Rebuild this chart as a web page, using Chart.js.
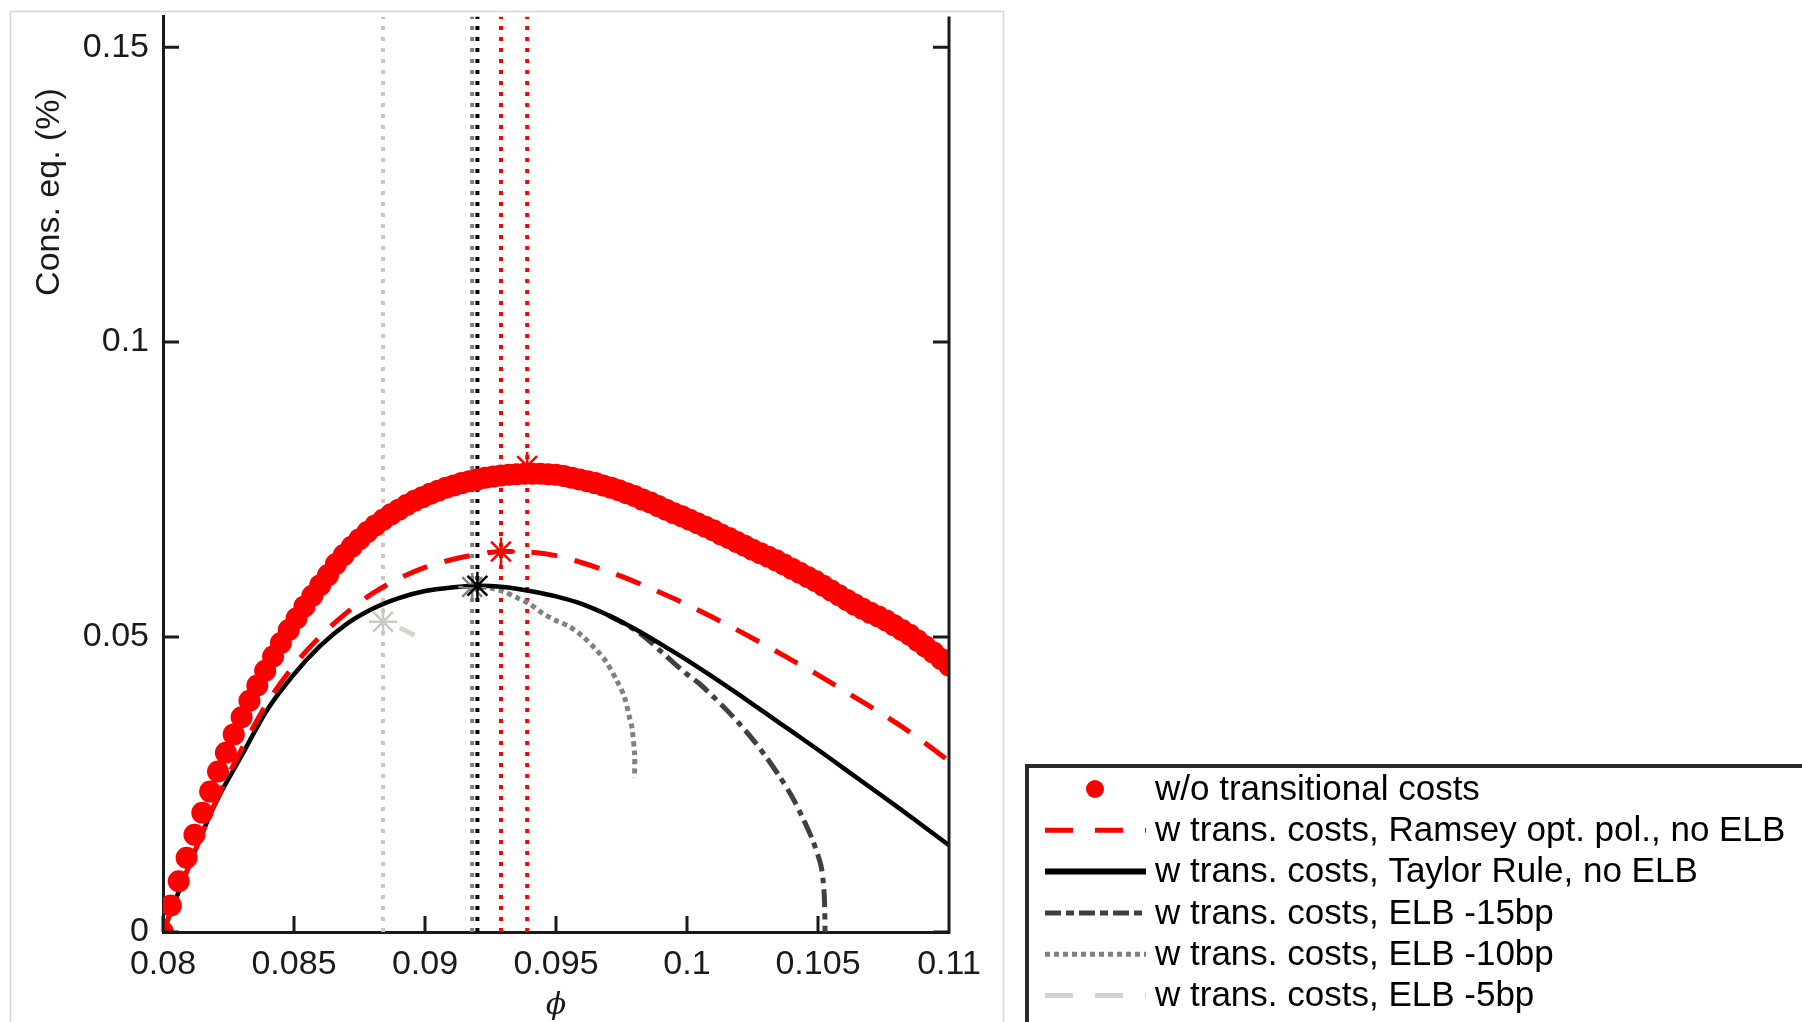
<!DOCTYPE html>
<html>
<head>
<meta charset="utf-8">
<script src="https://cdn.jsdelivr.net/npm/chart.js@4"></script>
<style>
  html, body { margin: 0; padding: 0; background: #fff; }
  canvas { display: block; }
</style>
</head>
<body>
<canvas id="myChart" width="1802" height="1022"></canvas>
<script>
// phi grid for the two smooth curves
const phiLine = [0.080, 0.081, 0.082, 0.083, 0.084, 0.085, 0.086, 0.087, 0.088, 0.089, 0.090,
                 0.091, 0.092, 0.093, 0.094, 0.095, 0.096, 0.097, 0.098, 0.099, 0.100,
                 0.101, 0.102, 0.103, 0.104, 0.105, 0.106, 0.107, 0.108, 0.109, 0.110];
const ramseyPolicy = [0.0000, 0.0113, 0.0220, 0.0310, 0.0390, 0.0452, 0.0501, 0.0541, 0.0574, 0.0599, 0.0618,
                      0.0631, 0.0640, 0.0645, 0.0644, 0.0638, 0.0626, 0.0611, 0.0594, 0.0575, 0.0555,
                      0.0533, 0.0510, 0.0486, 0.0461, 0.0436, 0.0409, 0.0382, 0.0354, 0.0323, 0.0290];
const taylorRule = [0.0000, 0.0113, 0.0218, 0.0299, 0.0378, 0.0437, 0.0485, 0.0522, 0.0548, 0.0566, 0.0578,
                    0.0584, 0.0587, 0.0585, 0.0578, 0.0569, 0.0556, 0.0537, 0.0514, 0.0488, 0.0461,
                    0.0432, 0.0402, 0.0371, 0.0340, 0.0309, 0.0277, 0.0245, 0.0213, 0.0180, 0.0147];

// w/o transitional costs (marker series)
const phiDots = [0.0800, 0.0803, 0.0806, 0.0809, 0.0812, 0.0815, 0.0818, 0.0821, 0.0824, 0.0827,
                 0.0830, 0.0833, 0.0836, 0.0839, 0.0842, 0.0845, 0.0848, 0.0851, 0.0854, 0.0857,
                 0.0860, 0.0863, 0.0866, 0.0869, 0.0872, 0.0875, 0.0878, 0.0881, 0.0884, 0.0887,
                 0.0890, 0.0893, 0.0896, 0.0899, 0.0902, 0.0905, 0.0908, 0.0911, 0.0914, 0.0917,
                 0.0920, 0.0923, 0.0926, 0.0929, 0.0932, 0.0935, 0.0938, 0.0941, 0.0944, 0.0947,
                 0.0950, 0.0953, 0.0956, 0.0959, 0.0962, 0.0965, 0.0968, 0.0971, 0.0974, 0.0977,
                 0.0980, 0.0983, 0.0986, 0.0989, 0.0992, 0.0995, 0.0998, 0.1001, 0.1004, 0.1007,
                 0.1010, 0.1013, 0.1016, 0.1019, 0.1022, 0.1025, 0.1028, 0.1031, 0.1034, 0.1037,
                 0.1040, 0.1043, 0.1046, 0.1049, 0.1052, 0.1055, 0.1058, 0.1061, 0.1064, 0.1067,
                 0.1070, 0.1073, 0.1076, 0.1079, 0.1082, 0.1085, 0.1088, 0.1091, 0.1094, 0.1097, 0.1100];
const noTransCosts = [0.0000, 0.0045, 0.0086, 0.0126, 0.0165, 0.0202, 0.0238, 0.0272, 0.0304, 0.0335,
                      0.0364, 0.0392, 0.0418, 0.0443, 0.0467, 0.0490, 0.0512, 0.0532, 0.0552, 0.0570,
                      0.0588, 0.0605, 0.0624, 0.0639, 0.0653, 0.0666, 0.0678, 0.0689, 0.0699, 0.0708,
                      0.0716, 0.0724, 0.0731, 0.0737, 0.0743, 0.0748, 0.0753, 0.0757, 0.0761, 0.0764,
                      0.0767, 0.0770, 0.0772, 0.0774, 0.0775, 0.0776, 0.0777, 0.0777, 0.0777, 0.0776,
                      0.0775, 0.0773, 0.0770, 0.0767, 0.0764, 0.0761, 0.0757, 0.0753, 0.0749, 0.0744,
                      0.0739, 0.0733, 0.0728, 0.0722, 0.0716, 0.0710, 0.0705, 0.0699, 0.0693, 0.0687,
                      0.0681, 0.0674, 0.0668, 0.0661, 0.0655, 0.0648, 0.0642, 0.0636, 0.0630, 0.0623,
                      0.0616, 0.0609, 0.0602, 0.0595, 0.0587, 0.0579, 0.0571, 0.0563, 0.0555, 0.0548,
                      0.0541, 0.0535, 0.0528, 0.0520, 0.0512, 0.0504, 0.0494, 0.0484, 0.0474, 0.0463, 0.0452];

// ELB variants (only where they leave the Taylor curve)
const elb15Phi  = [0.0970, 0.0978, 0.0985, 0.0990, 0.0995, 0.1000, 0.1005, 0.1010, 0.1015, 0.1020,
                   0.1025, 0.1030, 0.1035, 0.1040, 0.1044, 0.1048, 0.1051, 0.1052, 0.10525, 0.10527];
const elb15Cons = [0.0537, 0.0518, 0.0496, 0.0476, 0.0456, 0.0437, 0.0420, 0.0399, 0.0377, 0.0353,
                   0.0327, 0.0298, 0.0266, 0.0230, 0.0195, 0.0155, 0.0115, 0.0085, 0.0050, 0.0000];
const elb10Phi  = [0.0918, 0.0925, 0.0930, 0.0935, 0.0940, 0.0945, 0.0950, 0.0955, 0.0960, 0.0965,
                   0.0969, 0.0973, 0.0976, 0.0978, 0.0979, 0.0980, 0.0980];
const elb10Cons = [0.0587, 0.0583, 0.0577, 0.0567, 0.0556, 0.0540, 0.0528, 0.0518, 0.0502, 0.0480,
                   0.0459, 0.0428, 0.0400, 0.0365, 0.0346, 0.0300, 0.0262];
const elb5Phi   = [0.0884, 0.0890, 0.0896];
const elb5Cons  = [0.0526, 0.0516, 0.0503];

// optimum of each policy (asterisks and vertical dotted lines)
const optimumPhi  = [0.0884, 0.0918, 0.0920, 0.0929, 0.0939];
const optimumCons = [0.0526, 0.0585, 0.0587, 0.0645, 0.0790];
const optimumColors = ["#c9c9c2", "#808080", "#000000", "#ff0000", "#ff0000"];

const seriesLabels = [
    "w/o transitional costs",
    "w trans. costs, Ramsey opt. pol., no ELB",
    "w trans. costs, Taylor Rule, no ELB",
    "w trans. costs, ELB -15bp",
    "w trans. costs, ELB -10bp",
    "w trans. costs, ELB -5bp"
];

const xTicks = [0.08, 0.085, 0.09, 0.095, 0.1, 0.105, 0.11];
const yTicks = [0, 0.05, 0.1, 0.15];
const xMin = 0.08, xMax = 0.11, yMin = 0, yMax = 0.1552;

const toPoints = (xs, ys) => xs.map((x, i) => ({ x: x, y: ys[i] }));

const FONT = '"Liberation Sans", Arial, Helvetica, sans-serif';
Chart.defaults.font.family = FONT;
Chart.defaults.font.size = 34;
Chart.defaults.color = "#1a1a1a";

const datasets = [
    {
        label: seriesLabels[0],
        data: toPoints(phiDots, noTransCosts),
        showLine: false,
        pointStyle: "circle",
        pointRadius: 11,
        pointBackgroundColor: "#ff0000",
        pointBorderWidth: 0,
        order: 1,
    },
    {
        label: seriesLabels[1],
        data: toPoints(phiLine, ramseyPolicy),
        borderColor: "#ff0000",
        borderWidth: 5,
        borderDash: [26, 18],
        legendDash: [28, 22],
        cubicInterpolationMode: "monotone",
        pointRadius: 0,
        order: 2,
    },
    {
        label: seriesLabels[2],
        data: toPoints(phiLine, taylorRule),
        borderColor: "#000000",
        borderWidth: 4.5,
        legendWidth: 6,
        cubicInterpolationMode: "monotone",
        pointRadius: 0,
        order: 3,
    },
    {
        label: seriesLabels[3],
        data: toPoints(elb15Phi, elb15Cons),
        borderColor: "#404040",
        borderWidth: 5,
        borderDash: [18, 6, 6, 6],
        legendDash: [16, 5, 8, 5],
        tension: 0.3,
        pointRadius: 0,
        order: 4,
    },
    {
        label: seriesLabels[4],
        data: toPoints(elb10Phi, elb10Cons),
        borderColor: "#808080",
        borderWidth: 5,
        borderDash: [5, 4],
        tension: 0.3,
        pointRadius: 0,
        order: 5,
    },
    {
        label: seriesLabels[5],
        data: toPoints(elb5Phi, elb5Cons),
        borderColor: "#d4d4cc",
        borderWidth: 5,
        borderDash: [26, 18],
        borderDashOffset: 26,
        legendDash: [28, 22],
        tension: 0.3,
        pointRadius: 0,
        order: 6,
    },
    {
        label: "",
        data: toPoints(optimumPhi, optimumCons),
        showLine: false,
        pointStyle: "star",
        pointRadius: 14,
        pointBorderWidth: 2.5,
        pointBorderColor: optimumColors,
        order: 0,
    },
];

// vertical dotted lines at each optimum
optimumPhi.forEach((phi, i) => {
    datasets.push({
        label: "",
        data: [{ x: phi, y: yMin }, { x: phi, y: yMax }],
        borderColor: optimumColors[i],
        borderWidth: 4,
        borderDash: [4, 7],
        pointRadius: 0,
        order: 10,
    });
});

const figureDecor = {
    id: "figureDecor",
    beforeDraw(chart) {
        const ctx = chart.ctx;
        ctx.save();
        ctx.fillStyle = "#ffffff";
        ctx.fillRect(0, 0, chart.width, chart.height);
        ctx.strokeStyle = "#d6d6d6";
        ctx.lineWidth = 1.5;
        ctx.strokeRect(10.5, 11.5, 993, 1030);
        ctx.restore();
    },
    afterDraw(chart) {
        const ctx = chart.ctx;
        const area = chart.chartArea;
        const xs = chart.scales.x, ys = chart.scales.y;
        ctx.save();

        // right axis line and inward ticks
        ctx.strokeStyle = "#1a1a1a";
        ctx.lineWidth = 3;
        ctx.beginPath();
        ctx.moveTo(area.right, area.top);
        ctx.lineTo(area.right, area.bottom + 1.5);
        yTicks.forEach(v => {
            const py = ys.getPixelForValue(v);
            ctx.moveTo(area.left, py);
            ctx.lineTo(area.left + 16, py);
            ctx.moveTo(area.right, py);
            ctx.lineTo(area.right - 16, py);
        });
        xTicks.forEach(v => {
            const px = xs.getPixelForValue(v);
            ctx.moveTo(px, area.bottom);
            ctx.lineTo(px, area.bottom - 16);
        });
        ctx.stroke();

        // axis titles
        ctx.fillStyle = "#1a1a1a";
        ctx.textAlign = "center";
        ctx.textBaseline = "middle";
        ctx.save();
        ctx.translate(50, 192);
        ctx.rotate(-Math.PI / 2);
        ctx.font = "34px " + FONT;
        ctx.fillText("Cons. eq. (%)", 0, 0);
        ctx.restore();
        ctx.font = "italic 30px \"DejaVu Serif\", \"Liberation Serif\", serif";
        ctx.fillText("\u03D5", xs.getPixelForValue(0.095), 1006);

        // legend box
        const lx = 1027, ly = 766;
        ctx.strokeStyle = "#2b2b2b";
        ctx.lineWidth = 4;
        ctx.strokeRect(lx, ly, 820, 300);
        ctx.font = "35px " + FONT;
        ctx.textAlign = "left";
        for (let i = 0; i < seriesLabels.length; i++) {
            const ds = chart.data.datasets[i];
            const ry = 789 + i * 41.3;
            if (ds.showLine === false) {
                ctx.beginPath();
                ctx.fillStyle = ds.pointBackgroundColor;
                ctx.arc(1095, ry, 9, 0, Math.PI * 2);
                ctx.fill();
            } else {
                ctx.beginPath();
                ctx.strokeStyle = ds.borderColor;
                ctx.lineWidth = ds.legendWidth || ds.borderWidth;
                ctx.setLineDash(ds.legendDash || ds.borderDash || []);
                ctx.moveTo(1045, ry);
                ctx.lineTo(1146, ry);
                ctx.stroke();
                ctx.setLineDash([]);
            }
            ctx.fillStyle = "#000000";
            ctx.fillText(ds.label, 1155, ry + 1);
        }
        ctx.restore();
    }
};

const config = {
    type: "line",
    data: { datasets: datasets },
    options: {
        responsive: false,
        animation: false,
        devicePixelRatio: 1,
        layout: { padding: { left: 0, top: 12, right: 853, bottom: 0 } },
        plugins: {
            legend: { display: false },
            tooltip: { enabled: false },
        },
        scales: {
            x: {
                type: "linear",
                min: xMin,
                max: xMax,
                afterFit: scale => {
                    scale.height = 90;
                    scale.paddingLeft = 0;
                    scale.paddingRight = 0;
                },
                afterBuildTicks: scale => { scale.ticks = xTicks.map(v => ({ value: v })); },
                grid: { display: false, drawTicks: false },
                border: { display: true, color: "#1a1a1a", width: 3 },
                ticks: {
                    padding: 12,
                    maxRotation: 0,
                    autoSkip: false,
                    callback: v => String(Number(v.toFixed(4))),
                },
            },
            y: {
                type: "linear",
                min: yMin,
                max: yMax,
                afterFit: scale => {
                    scale.width = 163;
                    scale.paddingTop = 0;
                    scale.paddingBottom = 0;
                },
                afterBuildTicks: scale => { scale.ticks = yTicks.map(v => ({ value: v })); },
                grid: { display: false, drawTicks: false },
                border: { display: true, color: "#1a1a1a", width: 3 },
                ticks: {
                    padding: 14,
                    autoSkip: false,
                    callback: v => String(Number(v.toFixed(4))),
                },
            },
        },
    },
    plugins: [figureDecor],
};

const myChart = new Chart(document.getElementById("myChart"), config);
</script>
</body>
</html>
